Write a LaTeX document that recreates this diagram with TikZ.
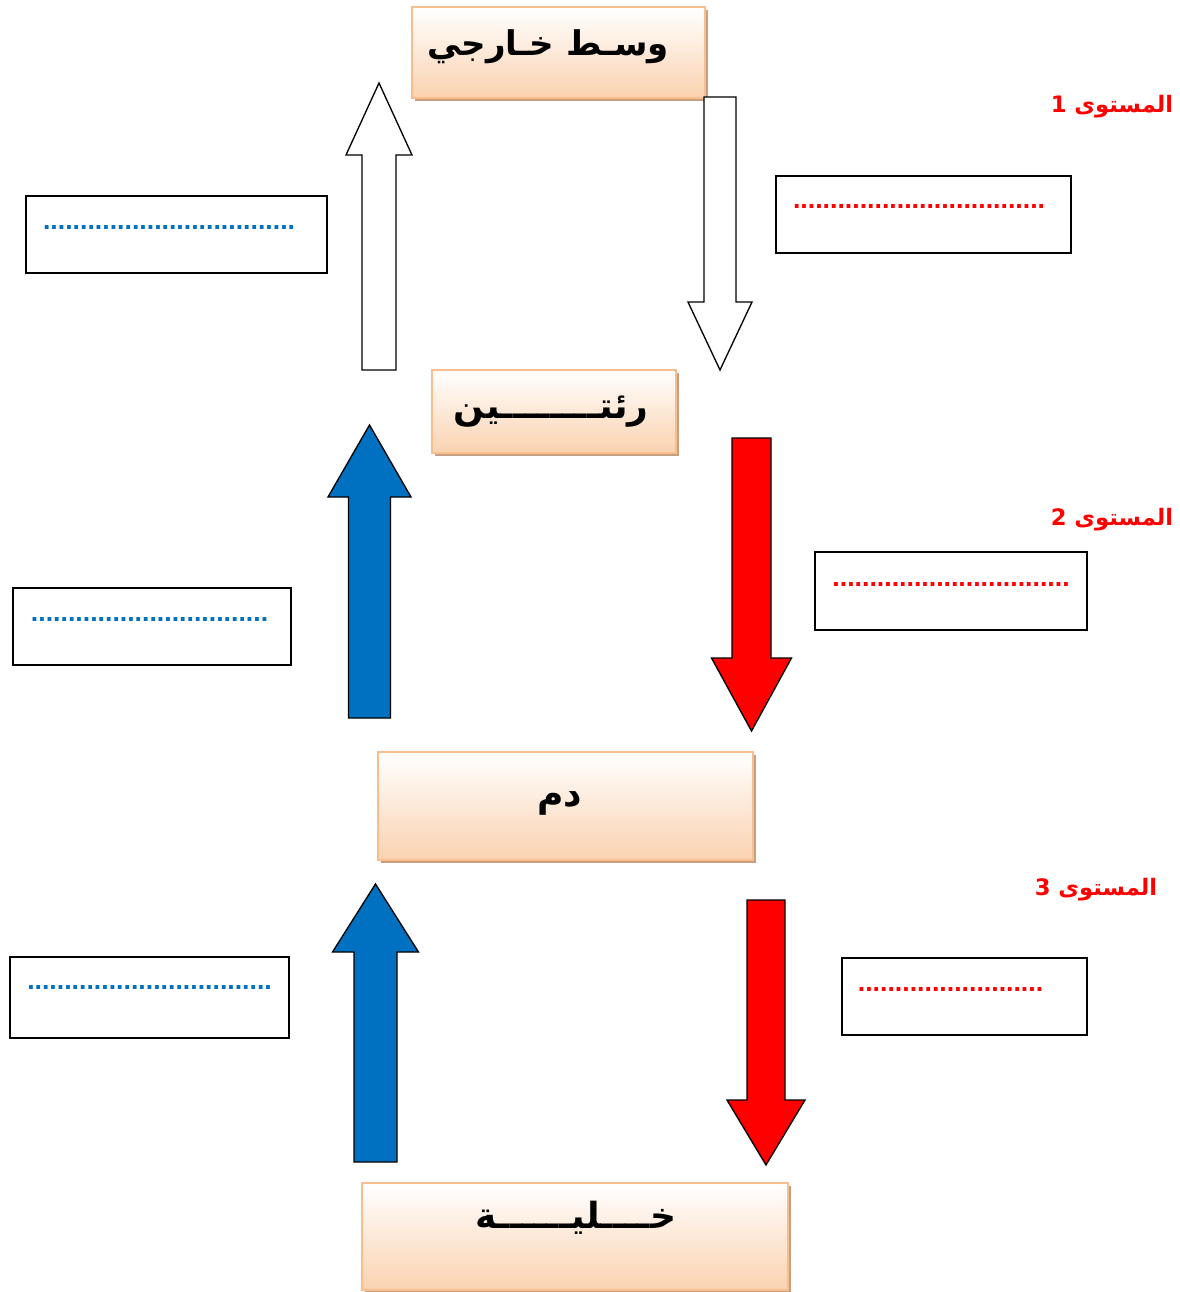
\documentclass[tikz,border=0pt]{standalone}
\usepackage{fontspec}
\newfontfamily\arabicfont[Script=Arabic]{DejaVu Sans}
\setmainfont{Liberation Sans}
\TeXXeTstate=1
\usetikzlibrary{shadows}

\definecolor{peach}{RGB}{250,210,176}
\definecolor{peachline}{RGB}{249,190,142}
\definecolor{shadowbrown}{RGB}{200,160,128}
\definecolor{bloodblue}{RGB}{0,112,192}

% block arrow: [style]{cx}{y start}{y head base}{y tip}{half shaft}{half head}
\newcommand\blockarrow[7][]{%
  \draw[#1] (#2-#6,#3) -- (#2-#6,#4) -- (#2-#7,#4) -- (#2,#5)
    -- (#2+#7,#4) -- (#2+#6,#4) -- (#2+#6,#3) -- cycle;}
\newcommand\dotrow[1]{\foreach\i in {1,...,#1}{.}}

\begin{document}
\begin{tikzpicture}[
  x=0.75pt, y=-0.75pt,
  levelbox/.style={draw=peachline, line width=1.2pt, top color=white,
    bottom color=peach, inner sep=0pt,
    drop shadow={shadow xshift=2.2pt, shadow yshift=-2.2pt,
      fill=shadowbrown, opacity=1}},
  boxtext/.style={font=\arabicfont\bfseries\fontsize{27}{32}\selectfont},
  answerbox/.style={draw, line width=1.1pt, inner sep=0pt},
  bluedots/.style={text=bloodblue, font=\bfseries\fontsize{20}{20}\selectfont, inner sep=0pt},
  reddots/.style={text=red, font=\bfseries\fontsize{20}{20}\selectfont, inner sep=0pt},
  levellabel/.style={text=red, font=\arabicfont\bfseries\fontsize{17}{20}\selectfont},
  hollow/.style={draw, fill=white, line width=1pt},
  bluearrow/.style={draw, fill=bloodblue, line width=1pt},
  redarrow/.style={draw, fill=red, line width=1pt},
]
  \useasboundingbox (0,0) rectangle (1179,1292);

  % Levels
  \node[levelbox, minimum width=219.75pt, minimum height=68.25pt] (outside) at (558.5,52.5) {};
  \node[boxtext, font=\arabicfont\bfseries\fontsize{25.5}{30}\selectfont] (outsidetext) at (548,47) {\beginR وسـط خـارجي\endR};

  \node[levelbox, minimum width=183pt, minimum height=62.25pt] (lungs) at (554,411.5) {};
  \node[boxtext] (lungstext) at (551,412) {\beginR رئتــــــــين\endR};

  \node[levelbox, minimum width=281.25pt, minimum height=81pt] (blood) at (565.5,806) {};
  \node[boxtext] (bloodtext) at (560,803) {\beginR دم\endR};

  \node[levelbox, minimum width=319.5pt, minimum height=80.25pt] (cell) at (575,1236.5) {};
  \node[boxtext] (celltext) at (576,1218) {\beginR خــــليــــــة\endR};

  % Exchange arrows
  \blockarrow[hollow]{379}{370}{155}{83}{17}{33}
  \blockarrow[hollow]{720}{97}{302}{370}{16}{32}
  \blockarrow[bluearrow]{369.5}{718}{497}{425}{21}{41.5}
  \blockarrow[redarrow]{751.5}{438}{658}{731}{19.5}{40}
  \blockarrow[bluearrow]{375.5}{1162}{952}{884}{21.5}{43}
  \blockarrow[redarrow]{766}{900}{1100}{1165}{19}{39}

  % Answer boxes
  \node[answerbox, minimum width=225.75pt, minimum height=57.75pt] (leftone) at (176.5,234.5) {};
  \node[bluedots] (leftonedots) at (169,228) {\dotrow{34}};
  \node[answerbox, minimum width=221.25pt, minimum height=57.75pt] (rightone) at (923.5,214.5) {};
  \node[reddots] (rightonedots) at (919,207) {\dotrow{34}};

  \node[answerbox, minimum width=208.5pt, minimum height=57.75pt] (lefttwo) at (152,626.5) {};
  \node[bluedots] (lefttwodots) at (149.5,620) {\dotrow{32}};
  \node[answerbox, minimum width=204pt, minimum height=58.5pt] (righttwo) at (951,591) {};
  \node[reddots] (righttwodots) at (951,585) {\dotrow{32}};

  \node[answerbox, minimum width=209.25pt, minimum height=60.75pt] (leftthree) at (149.5,997.5) {};
  \node[bluedots] (leftthreedots) at (149.5,988) {\dotrow{33}};
  \node[answerbox, minimum width=183.75pt, minimum height=57.75pt] (rightthree) at (964.5,996.5) {};
  \node[reddots] (rightthreedots) at (950.5,990) {\dotrow{25}};

  % Level labels
  \node[levellabel] (levelone) at (1112,107) {\beginR المستوى 1\endR};
  \node[levellabel] (leveltwo) at (1112,520) {\beginR المستوى 2\endR};
  \node[levellabel] (levelthree) at (1096,890) {\beginR المستوى 3\endR};

\end{tikzpicture}
\end{document}
